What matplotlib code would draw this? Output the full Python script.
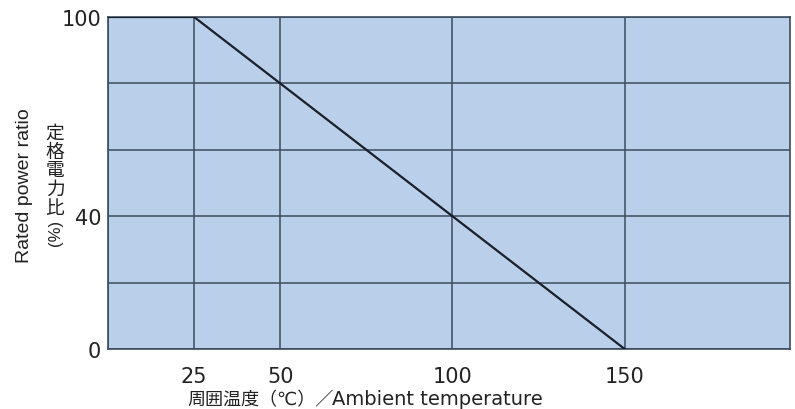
import matplotlib.pyplot as plt

plt.rcParams['font.family'] = ['DejaVu Sans', 'Noto Sans CJK JP']

# derating curve
temp = [0, 25, 150]
power = [100, 100, 0]

x_grid = [0, 25, 50, 100, 150]
x_ticks = [25, 50, 100, 150]
y_grid = [0, 20, 40, 60, 80, 100]
y_ticks = [0, 40, 100]

bg = '#b9cfea'
grid_col = '#3d4b5e'
txt = '#222222'

fig = plt.figure(figsize=(7.95, 4.10), dpi=100)
ax = fig.add_axes([108 / 795, 1 - 350 / 410, (790 - 108) / 795, (350 - 18) / 410])
ax.set_facecolor(bg)

for gx in x_grid:
    ax.axvline(gx, color=grid_col, lw=1.1, zorder=1)
for gy in y_grid:
    ax.axhline(gy, color=grid_col, lw=1.1, zorder=1)

ax.plot(temp, power, color='#1a1f2a', lw=1.6, zorder=3)

ax.set_xlim(0, 198)
ax.set_ylim(0, 100)
ax.set_xticks(x_ticks)
ax.set_yticks(y_ticks)
ax.tick_params(axis='x', length=0, pad=12, labelsize=15, colors=txt)
ax.tick_params(axis='y', length=0, pad=5, labelsize=15, colors=txt)
for s in ax.spines.values():
    s.set_color(grid_col)
    s.set_linewidth(1.2)

# axis labels
fig.text(187 / 795, 1 - 400 / 410, '周囲温度（℃）／',
         ha='left', va='center', fontsize=13, color=txt)
fig.text(332 / 795, 1 - 400 / 410, 'Ambient temperature',
         ha='left', va='center', fontsize=14, color=txt)
fig.text(25 / 795, 1 - 186 / 410, 'Rated power ratio', rotation=90,
         ha='center', va='center', fontsize=14, color=txt,
         family=['Liberation Sans', 'DejaVu Sans'])
fig.text(55 / 795, 1 - 171 / 410, '\n'.join('定格電力比'), linespacing=0.86,
         ha='center', va='center', fontsize=13.5, color=txt,
         family=['Noto Sans CJK JP'])
fig.text(55 / 795, 1 - 233 / 410, '(%)', rotation=90,
         ha='center', va='center', fontsize=12, color=txt,
         family=['Liberation Sans', 'DejaVu Sans'])

fig.savefig('out.png', dpi=100)
